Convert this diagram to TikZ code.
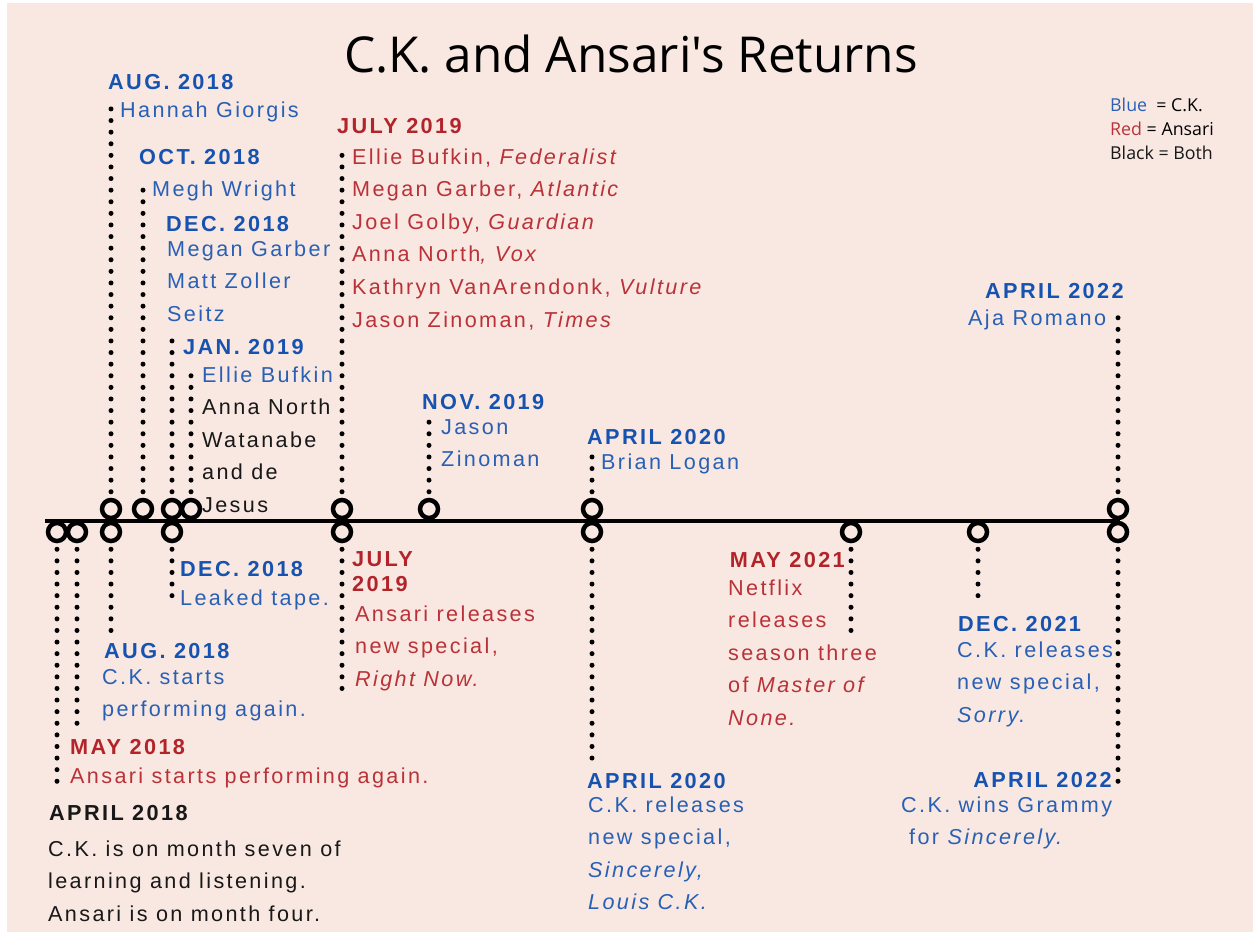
\documentclass[tikz,border=0pt]{standalone}
\usepackage{fontspec}
\setmainfont{Liberation Sans}
\newfontfamily\labelfont[LetterSpace=11]{Liberation Sans}
\newfontfamily\titlefont{Open Sans}

\definecolor{bgpink}{RGB}{249,232,225}
\definecolor{ckblue}{RGB}{22,82,176}
\definecolor{ckbluetext}{RGB}{40,96,182}
\definecolor{anred}{RGB}{178,36,42}
\definecolor{anredtext}{RGB}{186,50,56}
\definecolor{bothblack}{RGB}{24,24,24}

\begin{document}
\begin{tikzpicture}[x=1pt,y=-1pt,
    eventdot/.style={circle,draw=black,fill=bgpink,line width=4.5pt,minimum size=18pt,inner sep=0pt},
    dotline/.style={line width=5pt,line cap=round,dash pattern=on 0pt off 11.6pt,shorten <=6pt},
    datelab/.style={font=\labelfont\bfseries\fontsize{21.7}{25}\selectfont,anchor=base west,inner sep=0pt,align=left},
    bodytext/.style={font=\labelfont\fontsize{21.6}{32.6}\selectfont,anchor=base west,inner sep=0pt,align=left},
    legend/.style={font=\titlefont\fontsize{17.8}{20}\selectfont,anchor=base west,inner sep=0pt}]
        % \draw[help lines] grid(1253,932);
        \useasboundingbox (0,0) rectangle (1253,932);
        \fill[white] (0,0) rectangle (1253,932);
        \fill[bgpink] (7,3) rectangle (1253,932);

        \node[font=\titlefont\fontsize{49.5}{60}\selectfont,text=black] (title) at (631,54) {C.K. and Ansari's Returns};

        % legend (multi-line nodes sit on their last baseline)
        \node[legend] (legblue) at (1110,111) {\textcolor{ckbluetext}{Blue}\ \ = C.K.};
        \node[legend] (legred) at (1110,135) {\textcolor{anredtext}{Red} = Ansari};
        \node[legend,text=bothblack] (legboth) at (1110,159) {Black = Both};

        % the timeline
        \coordinate (tlstart) at (45,521);
        \coordinate (tlend) at (1120,521);
        \draw[line width=4pt] (tlstart) -- (tlend);

        % events below the line
        \node[eventdot] (c18apr) at (57,532) {};
        \node[eventdot] (c18may) at (77,532) {};
        \node[eventdot] (c18augb) at (111,532) {};
        \node[eventdot] (c18decb) at (172,532) {};
        \node[eventdot] (c19julyb) at (342,532) {};
        \node[eventdot] (c20aprb) at (592,532) {};
        \node[eventdot] (c21may) at (851,532) {};
        \node[eventdot] (c21dec) at (978,532) {};
        \node[eventdot] (c22aprb) at (1118,532) {};

        % events above the line
        \node[eventdot] (c18auga) at (111,509) {};
        \node[eventdot] (c18oct) at (143,509) {};
        \node[eventdot] (c18deca) at (172,509) {};
        \node[eventdot] (c19jan) at (191,509) {};
        \node[eventdot] (c19julya) at (342,509) {};
        \node[eventdot] (c19nov) at (429,509) {};
        \node[eventdot] (c20apra) at (592,509) {};
        \node[eventdot] (c22apra) at (1118,509) {};

        % ends of the dotted stems
        \coordinate (e18apr) at (57,792);
        \coordinate (e18may) at (77,732);
        \coordinate (e18augb) at (111,634);
        \coordinate (e18decb) at (172,602);
        \coordinate (e19julyb) at (342,692);
        \coordinate (e20aprb) at (592,762);
        \coordinate (e21may) at (851,632);
        \coordinate (e21dec) at (978,604);
        \coordinate (e22aprb) at (1118,787);
        \coordinate (e18auga) at (111,98);
        \coordinate (e18oct) at (143,180);
        \coordinate (e18deca) at (172,336);
        \coordinate (e19jan) at (191,366);
        \coordinate (e19julya) at (342,148);
        \coordinate (e19nov) at (429,418);
        \coordinate (e20apra) at (592,454);
        \coordinate (e22apra) at (1118,311);

        \draw[dotline] (c18apr.south) -- (e18apr);
        \draw[dotline] (c18may.south) -- (e18may);
        \draw[dotline] (c18augb.south) -- (e18augb);
        \draw[dotline] (c18decb.south) -- (e18decb);
        \draw[dotline] (c19julyb.south) -- (e19julyb);
        \draw[dotline] (c20aprb.south) -- (e20aprb);
        \draw[dotline] (c21may.south) -- (e21may);
        \draw[dotline] (c21dec.south) -- (e21dec);
        \draw[dotline] (c22aprb.south) -- (e22aprb);
        \draw[dotline] (c18auga.north) -- (e18auga);
        \draw[dotline] (c18oct.north) -- (e18oct);
        \draw[dotline] (c18deca.north) -- (e18deca);
        \draw[dotline] (c19jan.north) -- (e19jan);
        \draw[dotline] (c19julya.north) -- (e19julya);
        \draw[dotline] (c19nov.north) -- (e19nov);
        \draw[dotline] (c20apra.north) -- (e20apra);
        \draw[dotline] (c22apra.north) -- (e22apra);

        % labels above
        \node[datelab,text=ckblue] (d18auga) at (108,89.5) {AUG. 2018};
        \node[bodytext,text=ckbluetext] (t18auga) at (120,117) {Hannah Giorgis};
        \node[datelab,text=ckblue] (d18oct) at (139,164.5) {OCT. 2018};
        \node[bodytext,text=ckbluetext] (t18oct) at (152,196) {Megh Wright};
        \node[datelab,text=ckblue] (d18deca) at (166,231.5) {DEC. 2018};
        \node[bodytext,text=ckbluetext] (t18deca) at (167,321.2) {Megan Garber\\Matt Zoller\\Seitz};
        \node[datelab,text=ckblue] (d19jan) at (183,354.5) {JAN. 2019};
        \node[bodytext,text=bothblack] (t19jan) at (202,512.4) {\textcolor{ckbluetext}{Ellie Bufkin}\\Anna North\\Watanabe\\and de\\Jesus};
        \node[datelab,text=anred] (d19julya) at (337,133.5) {JULY 2019};
        \node[bodytext,text=anredtext] (t19julya) at (352,327) {Ellie Bufkin, \textit{Federalist}\\Megan Garber, \textit{Atlantic}\\Joel Golby, \textit{Guardian}\\Anna North\textit{, Vox}\\Kathryn VanArendonk, \textit{Vulture}\\Jason Zinoman, \textit{Times}};
        \node[datelab,text=ckblue] (d19nov) at (422,409.5) {NOV. 2019};
        \node[bodytext,text=ckbluetext] (t19nov) at (441,466.6) {Jason\\Zinoman};
        \node[datelab,text=ckblue] (d20apra) at (587,444.5) {APRIL 2020};
        \node[bodytext,text=ckbluetext] (t20apra) at (601,469) {Brian Logan};
        \node[datelab,text=ckblue] (d22apra) at (985,298.5) {APRIL 2022};
        \node[bodytext,text=ckbluetext] (t22apra) at (968,325) {Aja Romano};

        % labels below
        \node[datelab,text=ckblue] (d18decb) at (180,576) {DEC. 2018};
        \node[bodytext,text=ckbluetext] (t18decb) at (180,605) {Leaked tape.};
        \node[datelab,text=anred] (d19julyb) at (352,591) {JULY\\2019};
        \node[bodytext,text=anredtext] (t19julyb) at (355,686.2) {Ansari releases\\new special,\\\textit{Right Now.}};
        \node[datelab,text=ckblue] (d18augb) at (104,658) {AUG. 2018};
        \node[bodytext,text=ckbluetext] (t18augb) at (102,716.6) {C.K. starts\\performing again.};
        \node[datelab,text=anred] (d18may) at (70,754) {MAY 2018};
        \node[bodytext,text=anredtext] (t18may) at (70,783) {Ansari starts performing again.};
        \node[datelab,text=bothblack] (d18apr) at (49,820) {APRIL 2018};
        \node[bodytext,text=bothblack] (t18apr) at (48,921.2) {C.K. is on month seven of\\learning and listening.\\Ansari is on month four.};
        \node[datelab,text=anred,anchor=base east] (d21may) at (845,567) {MAY 2021};
        \node[bodytext,text=anredtext] (t21may) at (728,725.4) {Netflix\\releases\\season three\\of \textit{Master of}\\\textit{None.}};
        \node[datelab,text=ckblue] (d21dec) at (958,631) {DEC. 2021};
        \node[bodytext,text=ckbluetext] (t21dec) at (957,722.2) {C.K. releases\\new special,\\\textit{Sorry}.};
        \node[datelab,text=ckblue] (d20aprb) at (587,788) {APRIL 2020};
        \node[bodytext,text=ckbluetext] (t20aprb) at (588,909.8) {C.K. releases\\new special,\\\textit{Sincerely,}\\\textit{Louis C.K.}};
        \node[datelab,text=ckblue,anchor=base east] (d22aprb) at (1112,787) {APRIL 2022};
        \node[bodytext,text=ckbluetext] (t22aprb) at (901,844.6) {C.K. wins Grammy\\\hspace{8pt}for \textit{Sincerely.}};
\end{tikzpicture}
\end{document}
